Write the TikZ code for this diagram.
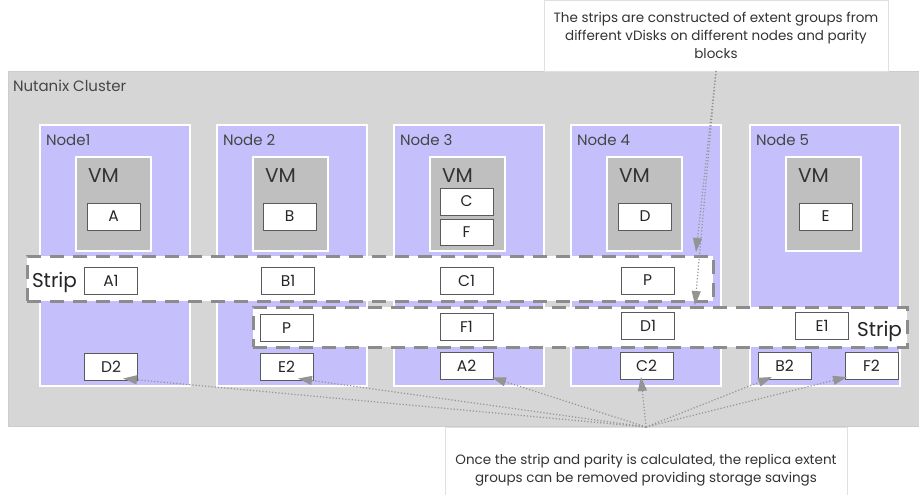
\documentclass[tikz,border=0pt]{standalone}
\usepackage{fontspec}
\setmainfont{Poppins}
\usetikzlibrary{arrows.meta}

\definecolor{clustergray}{RGB}{214,214,214}
\definecolor{hostpurple}{RGB}{197,191,252}
\definecolor{vmgray}{RGB}{191,191,191}
\definecolor{stripgray}{RGB}{140,140,140}
\definecolor{egline}{RGB}{90,90,90}
\definecolor{labelgray}{RGB}{70,70,70}

\begin{document}
\begin{tikzpicture}[x=1pt,y=-1pt,
  every node/.style={inner sep=0pt,outer sep=0pt},
  hostbox/.style={draw=white,line width=1.5pt,fill=hostpurple,anchor=north west,minimum width=150pt,minimum height=261pt},
  vmbox/.style={draw=white,line width=1.5pt,fill=vmgray,anchor=north west,minimum width=75pt,minimum height=94pt},
  hostname/.style={anchor=base west,text=labelgray,font=\fontsize{15}{17}\selectfont},
  vmname/.style={anchor=base west,text=black!80,font=\fontsize{20}{22}\selectfont},
  egroup/.style={draw=egline,line width=1pt,fill=white,minimum width=53pt,minimum height=27pt,text=black!85,font=\fontsize{15.5}{17}\selectfont},
  stripbox/.style={draw=stripgray,line width=3pt,dash pattern=on 14pt off 9pt,fill=white,anchor=north west},
  stripname/.style={text=black!85,font=\fontsize{20}{22}\selectfont},
  note/.style={draw=black!12,fill=white,anchor=north west,align=center,text=black!80},
  pointer/.style={draw=black!42,line width=1.2pt,dotted,-{Triangle[length=14pt,width=9pt]}}]
\fill[white] (0,0) rectangle (919,495);
\useasboundingbox (0,0) rectangle (919,495);

\node[draw=black!20,fill=clustergray,anchor=north west,minimum width=911pt,minimum height=355pt] (cluster) at (8,71) {};
\node[hostname] (clustername) at (13,92) {Nutanix Cluster};

\foreach \n/\x/\lbl in {1/40/Node1,2/217/Node 2,3/394/Node 3,4/571/Node 4,5/750/Node 5}{
  \node[hostbox] (host\n) at (\x,125) {};
  \node[hostname] (hostname\n) at (\x+6,145) {\lbl};
  \node[vmbox] (vm\n) at (\x+36,157) {};
  \node[vmname] (vmname\n) at (\x+48,182) {VM};
}

\node[egroup] (a) at (113.5,216.5) {A};
\node[egroup] (b) at (289.5,216.5) {B};
\node[egroup] (c) at (466.5,201.5) {C};
\node[egroup,minimum height=26pt] (f) at (466.5,232) {F};
\node[egroup] (d) at (645,216.5) {D};
\node[egroup] (e) at (825.5,216.5) {E};

\node[stripbox,minimum width=686pt,minimum height=45pt] (strip1) at (27,256) {};
\node[stripname,anchor=base west] (stripname1) at (32,287) {Strip};
\node[egroup] (a1) at (111,280.5) {A1};
\node[egroup] (b1) at (288,280.5) {B1};
\node[egroup] (c1) at (466.5,280.5) {C1};
\node[egroup] (p1) at (647.5,280.5) {P};

\node[stripbox,minimum width=654pt,minimum height=40pt] (strip2) at (253,307) {};
\node[stripname,anchor=base east] (stripname2) at (902,336) {Strip};
\node[egroup] (p2) at (286.5,328) {P};
\node[egroup] (f1) at (466.5,326.5) {F1};
\node[egroup] (d1) at (648,325.5) {D1};
\node[egroup] (e1) at (822,326) {E1};

\node[egroup] (d2) at (111,367) {D2};
\node[egroup] (e2) at (286.5,367) {E2};
\node[egroup] (a2) at (466.5,366) {A2};
\node[egroup] (c2) at (646.5,365.5) {C2};
\node[egroup] (b2) at (784.5,365.5) {B2};
\node[egroup] (f2) at (871.5,365.5) {F2};

\node[note,minimum width=344pt,minimum height=71pt,font=\fontsize{13.5}{18}\selectfont] (stripnote) at (544,0)
  {The strips are constructed of extent groups from\\different vDisks on different nodes and parity\\blocks};
\node[note,minimum width=402pt,minimum height=86pt,font=\fontsize{13.5}{18}\selectfont] (savingnote) at (445,427)
  {Once the strip and parity is calculated, the replica extent\\groups can be removed providing storage savings};

\draw[pointer] (stripnote.south) -- ([xshift=-17pt,yshift=4pt]strip1.north east);
\draw[pointer] (stripnote.south) -- ([xshift=115pt,yshift=2pt]strip2.north);
\draw[pointer] (savingnote.north) -- ([xshift=12pt,yshift=2pt]d2.south);
\draw[pointer] (savingnote.north) -- ([xshift=11.5pt,yshift=2pt]e2.south);
\draw[pointer] (savingnote.north) -- ([xshift=-1pt,yshift=2pt]a2.south east);
\draw[pointer] (savingnote.north) -- ([xshift=-5.5pt,yshift=2pt]c2.south);
\draw[pointer] (savingnote.north) -- ([xshift=-12.5pt,yshift=2pt]b2.south);
\draw[pointer] (savingnote.north) -- ([xshift=2pt,yshift=2pt]f2.south west);
\end{tikzpicture}
\end{document}
